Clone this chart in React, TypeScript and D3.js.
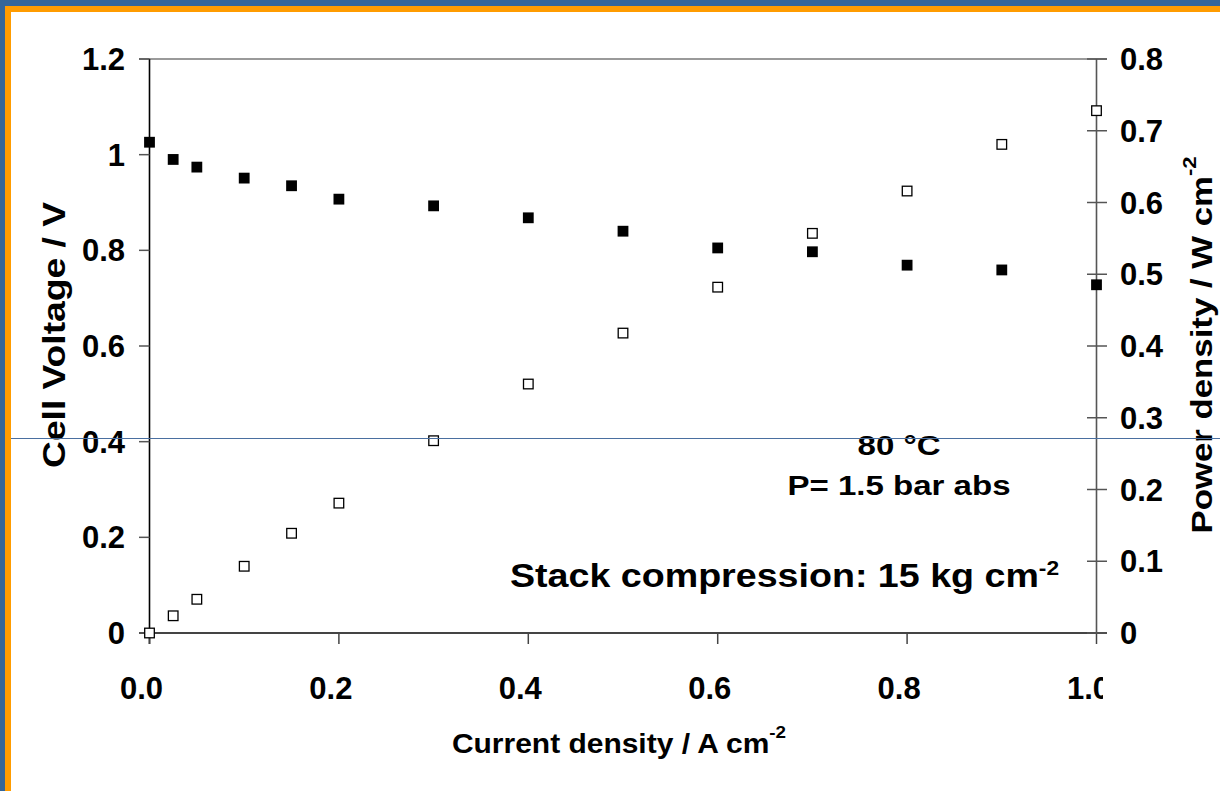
import React from "react";
import * as d3 from "d3";

// Polarisation and power-density readings for the single cell
const currentDensity = [0, 0.025, 0.05, 0.1, 0.15, 0.2, 0.3, 0.4, 0.5, 0.6, 0.7, 0.8, 0.9, 1.0];
const cellVoltage = [1.026, 0.99, 0.974, 0.951, 0.935, 0.907, 0.893, 0.868, 0.84, 0.805, 0.797, 0.769, 0.759, 0.728];
const powerDensity = [0, 0.024, 0.047, 0.093, 0.139, 0.181, 0.268, 0.347, 0.418, 0.482, 0.557, 0.616, 0.681, 0.728];

const xTicks = [0, 0.2, 0.4, 0.6, 0.8, 1.0];
const voltageTicks = [0, 0.2, 0.4, 0.6, 0.8, 1, 1.2];
const powerTicks = [0, 0.1, 0.2, 0.3, 0.4, 0.5, 0.6, 0.7, 0.8];

const W = 1220;
const H = 791;
const left = 149.5;
const right = 1096.5;
const top = 59;
const bottom = 633;

const FONT = "'Liberation Sans', Arial, Helvetica, sans-serif";

export default function App() {
  const x = d3.scaleLinear().domain([0, 1]).range([left, right]);
  const yV = d3.scaleLinear().domain([0, 1.2]).range([bottom, top]);
  const yP = d3.scaleLinear().domain([0, 0.8]).range([bottom, top]);
  const fmtX = d3.format(".1f");
  const fmtY = (v: number) => String(+v.toFixed(1));
  const sq = 10.8;

  return (
    <svg
      width={W}
      height={H}
      viewBox={`0 0 ${W} ${H}`}
      style={{ position: "absolute", left: 0, top: 0, background: "#fff" }}
      fontFamily={FONT}
      fontWeight="bold"
    >
      <defs>
        <clipPath id="xlabClip">
          <rect x={0} y={0} width={1103} height={H} />
        </clipPath>
      </defs>
      <rect x={0} y={0} width={W} height={H} fill="#fff" />

      {/* slide frame */}
      <rect x={0} y={0} width={W} height={6} fill="#346699" />
      <rect x={0} y={0} width={5} height={H} fill="#346699" />
      <rect x={5} y={6} width={W - 5} height={6} fill="#ff9c00" />
      <rect x={5} y={6} width={6} height={H - 6} fill="#ff9c00" />

      {/* plot frame */}
      <line x1={139} x2={1107} y1={top} y2={top} stroke="#9a9a9a" strokeWidth={2} />
      <line x1={139} x2={1107} y1={bottom} y2={bottom} stroke="#444" strokeWidth={2} />
      <line x1={left} x2={left} y1={top} y2={644} stroke="#000" strokeWidth={1.6} />
      <line x1={right} x2={right} y1={top} y2={bottom} stroke="#555" strokeWidth={1.6} />

      {/* x axis */}
      {xTicks.map((t) => (
        <g key={"x" + t}>
          <line x1={x(t)} x2={x(t)} y1={bottom} y2={644} stroke="#444" strokeWidth={1.5} />
          <text
            x={x(t) - 8}
            y={699}
            textAnchor="middle"
            fontSize={31}
            clipPath="url(#xlabClip)"
          >
            {fmtX(t)}
          </text>
        </g>
      ))}

      {/* left axis */}
      {voltageTicks.map((t) => (
        <g key={"v" + t}>
          <line x1={139} x2={left} y1={yV(t)} y2={yV(t)} stroke="#555" strokeWidth={1.5} />
          <text x={125} y={yV(t) + 11} textAnchor="end" fontSize={31}>
            {fmtY(t)}
          </text>
        </g>
      ))}

      {/* right axis */}
      {powerTicks.map((t) => (
        <g key={"p" + t}>
          <line x1={1087} x2={1107} y1={yP(t)} y2={yP(t)} stroke="#555" strokeWidth={1.5} />
          <text x={1120} y={yP(t) + 11} textAnchor="start" fontSize={31}>
            {fmtY(t)}
          </text>
        </g>
      ))}

      {/* axis titles */}
      <text transform="translate(619,753) scale(1.11,1)" textAnchor="middle" fontSize={27}>
        Current density / A cm
        <tspan fontSize={17} dy={-15}>-2</tspan>
      </text>
      <text transform="translate(65,335) rotate(-90) scale(1.2,1)" textAnchor="middle" fontSize={31}>
        Cell Voltage / V
      </text>
      <text transform="translate(1212,345) rotate(-90) scale(1.16,1)" textAnchor="middle" fontSize={30}>
        Power density / W cm
        <tspan fontSize={19} dy={-16}>-2</tspan>
      </text>

      {/* operating conditions */}
      <text transform="translate(899,455) scale(1.18,1)" textAnchor="middle" fontSize={28}>
        80 °C
      </text>
      <text transform="translate(899,495) scale(1.18,1)" textAnchor="middle" fontSize={28}>
        P= 1.5 bar abs
      </text>
      <text transform="translate(510,587) scale(1.14,1)" textAnchor="start" fontSize={33}>
        Stack compression: 15 kg cm
        <tspan fontSize={20} dy={-12}>-2</tspan>
      </text>

      {/* cell voltage (filled) */}
      {currentDensity.map((c, i) => (
        <rect
          key={"cv" + i}
          x={x(c) - sq / 2}
          y={yV(cellVoltage[i]) - sq / 2}
          width={sq}
          height={sq}
          fill="#000"
        />
      ))}

      {/* power density (open) */}
      {currentDensity.map((c, i) => (
        <rect
          key={"pd" + i}
          x={x(c) - sq / 2 + 0.6}
          y={yP(powerDensity[i]) - sq / 2 + 0.6}
          width={sq - 1.2}
          height={sq - 1.2}
          fill="#fff"
          stroke="#000"
          strokeWidth={1.3}
        />
      ))}

      {/* slide guide line */}
      <line x1={11} x2={W} y1={438.5} y2={438.5} stroke="#4a6fa0" strokeWidth={1} />
    </svg>
  );
}
